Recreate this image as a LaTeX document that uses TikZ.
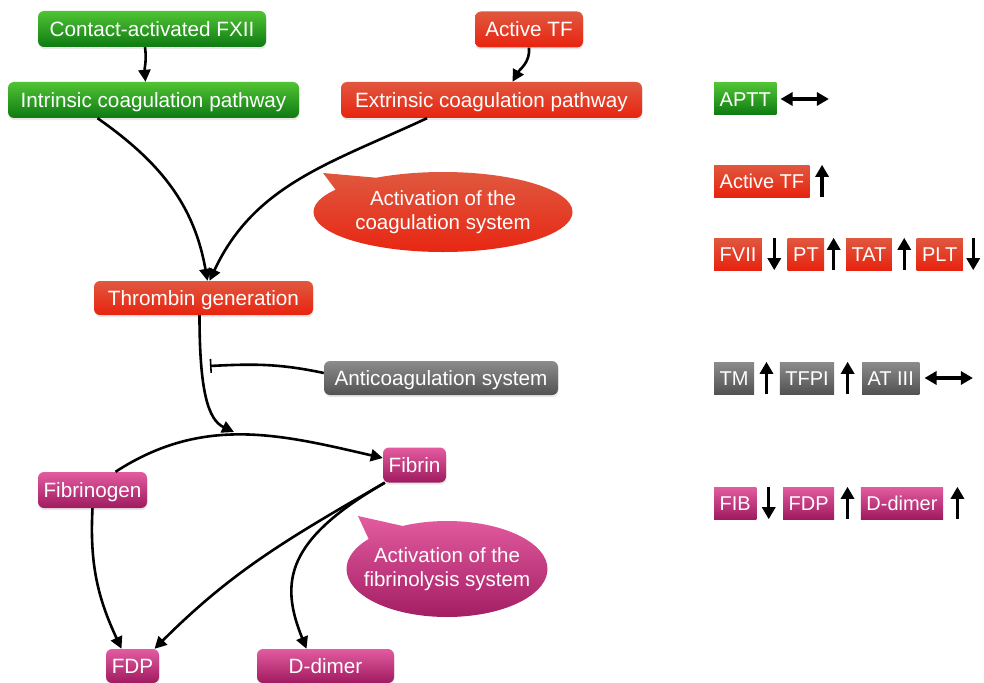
\documentclass[tikz,border=0pt]{standalone}
\usepackage{fontspec}
\setmainfont{Liberation Sans}
\usetikzlibrary{positioning,arrows.meta,shapes.callouts,shadows}

\definecolor{grtop}{HTML}{50C434}
\definecolor{grbot}{HTML}{0E7A12}
\definecolor{rdtop}{HTML}{E0583F}
\definecolor{rdbot}{HTML}{E8230F}
\definecolor{gytop}{HTML}{8C8C8C}
\definecolor{gybot}{HTML}{525252}
\definecolor{mgtop}{HTML}{E35CA0}
\definecolor{mgbot}{HTML}{A01A60}

\tikzset{
  gfill/.style={top color=grtop,bottom color=grbot},
  rfill/.style={top color=rdtop,bottom color=rdbot},
  kfill/.style={top color=gytop,bottom color=gybot},
  mfill/.style={top color=mgtop,bottom color=mgbot},
  box/.style={rounded corners=6pt,inner sep=0pt,minimum height=36pt,text height=14.8pt,text depth=0pt,
    font=\fontsize{20.7}{24}\selectfont,
    drop shadow={opacity=0.18,shadow xshift=0.5pt,shadow yshift=-2pt}},
  bubble/.style={shape=ellipse callout,inner ysep=0pt,align=center,callout pointer arc=25,
    font=\fontsize{20.5}{24}\selectfont},
  tag/.style={inner xsep=5.5pt,inner ysep=0pt,minimum height=32pt,text height=14.3pt,text depth=0pt},
  vslot/.style={inner sep=0pt,minimum width=0pt,minimum height=32pt},
  hslot/.style={inner sep=0pt,minimum width=48pt,minimum height=0pt},
  flow/.style={line width=2.6pt,-{Triangle[length=12pt,width=12pt]}},
  inhib/.style={line width=2.6pt,-{Bar[width=14pt,line width=1.6pt]}},
  rarr/.style={line width=3.2pt,-{Triangle[length=12pt,width=13pt]}},
  rboth/.style={line width=3.2pt,{Triangle[length=12pt,width=13pt]}-{Triangle[length=12pt,width=13pt]}}
}

\begin{document}
\begin{tikzpicture}[x=1pt,y=1pt,every node/.style={font=\fontsize{20}{24}\selectfont,text=white}]
\useasboundingbox (0,0) rectangle (984,-682);
%\draw[step=50,help lines](0,0)grid(984,-682);
    \node[box,gfill,minimum width=228pt] (contact) at (152,-29) {Contact-activated FXII};
    \node[box,rfill,minimum width=108pt] (activetf) at (529,-29.5) {Active TF};
    \node[box,gfill,minimum width=291pt] (intrinsic) at (153.5,-100) {Intrinsic coagulation pathway};
    \node[box,rfill,minimum width=301pt] (extrinsic) at (491.5,-100) {Extrinsic coagulation pathway};
    \node[bubble,rfill,inner xsep=2pt,minimum width=259pt,minimum height=80pt,callout absolute pointer={(323,-173)}] (coagsys) at (443,-212) {Activation of the\\coagulation system};
    \node[box,rfill,minimum width=219pt,minimum height=34pt] (thrombin) at (203.5,-298) {Thrombin generation};
    \node[box,kfill,minimum width=234pt,minimum height=34pt] (anticoag) at (441,-378) {Anticoagulation system};
    \node[box,mfill,minimum width=109pt] (fibrinogen) at (92.5,-490) {Fibrinogen};
    \node[box,mfill,minimum width=63pt,minimum height=35pt] (fibrin) at (414.5,-465) {Fibrin};
    \node[bubble,mfill,inner xsep=-14pt,minimum width=201pt,minimum height=96pt,callout absolute pointer={(358,-516)}] (fibsys) at (447,-569) {Activation of the\\fibrinolysis system};
    \node[box,mfill,minimum width=53pt,minimum height=34pt] (fdp) at (132.5,-666) {FDP};
    \node[box,mfill,minimum width=137pt,minimum height=34pt] (ddimer) at (325.5,-666) {D-dimer};
    \coordinate (conv) at (234,-432);
    \coordinate (block) at (210,-366);
    % pathways
    \draw[flow] ([xshift=-7pt]contact.south) to[out=-82,in=95] ([xshift=-8pt]intrinsic.north);
    \draw[flow] (activetf.south) to[out=-85,in=60] ([xshift=21pt]extrinsic.north);
    \draw[flow] ([xshift=-56pt]intrinsic.south) to[out=-35,in=100] ([xshift=4pt]thrombin.north);
    \draw[flow] ([xshift=-64.5pt]extrinsic.south) to[out=-155,in=65] ([xshift=6pt]thrombin.north);
    \draw[flow] ([xshift=-4pt]thrombin.south) to[out=-90,in=155,out looseness=1.6,in looseness=0.6] (conv);
    \draw[inhib] ([yshift=5pt]anticoag.west) to[out=168,in=3] (block);
    % fibrin
    \draw[flow] ([xshift=23pt]fibrinogen.north) to[out=33,in=167] ([yshift=7pt]fibrin.west);
    \draw[flow] (fibrinogen.south) to[out=-93,in=115] ([xshift=-11pt]fdp.north);
    \draw[flow] ([xshift=2pt]fibrin.south west) to[out=-150,in=45] ([xshift=22pt]fdp.north);
    \draw[flow] ([xshift=2pt]fibrin.south west) to[out=-150,in=112,out looseness=1.6] ([xshift=-19pt]ddimer.north);
    % lab values
    \node[tag,gfill,anchor=west] (aptt) at (714,-99) {APTT};
    \node[hslot,right=4pt of aptt] (apttarr) {};
    \draw[rboth] (apttarr.west) -- (apttarr.east);
    \node[tag,rfill,anchor=west] (tfup) at (714,-181) {Active TF};
    \node[vslot,right=12pt of tfup] (tfarr) {};
    \draw[rarr] (tfarr.south) -- (tfarr.north);
    \node[tag,rfill,anchor=west] (fvii) at (714,-254) {FVII};
    \node[vslot,right=12pt of fvii] (fviiarr) {};
    \node[tag,rfill,right=13pt of fviiarr] (pt) {PT};
    \node[vslot,right=9pt of pt] (ptarr) {};
    \node[tag,rfill,right=12pt of ptarr] (tat) {TAT};
    \node[vslot,right=12pt of tat] (tatarr) {};
    \node[tag,rfill,right=12pt of tatarr] (plt) {PLT};
    \node[vslot,right=10pt of plt] (pltarr) {};
    \draw[rarr] (fviiarr.north) -- (fviiarr.south);
    \draw[rarr] (ptarr.south) -- (ptarr.north);
    \draw[rarr] (tatarr.south) -- (tatarr.north);
    \draw[rarr] (pltarr.north) -- (pltarr.south);
    \node[tag,kfill,anchor=west] (tm) at (714,-378) {TM};
    \node[vslot,right=12pt of tm] (tmarr) {};
    \node[tag,kfill,right=13pt of tmarr] (tfpi) {TFPI};
    \node[vslot,right=13pt of tfpi] (tfpiarr) {};
    \node[tag,kfill,right=14pt of tfpiarr] (at) {AT III};
    \node[hslot,right=5pt of at] (atarr) {};
    \draw[rarr] (tmarr.south) -- (tmarr.north);
    \draw[rarr] (tfpiarr.south) -- (tfpiarr.north);
    \draw[rboth] (atarr.west) -- (atarr.east);
    \node[tag,mfill,anchor=west] (fib) at (714,-503) {FIB};
    \node[vslot,right=12pt of fib] (fibarr) {};
    \node[tag,mfill,right=14pt of fibarr] (fdpr) {FDP};
    \node[vslot,right=13pt of fdpr] (fdprarr) {};
    \node[tag,mfill,right=13pt of fdprarr] (dd) {D-dimer};
    \node[vslot,right=14pt of dd] (ddarr) {};
    \draw[rarr] (fibarr.north) -- (fibarr.south);
    \draw[rarr] (fdprarr.south) -- (fdprarr.north);
    \draw[rarr] (ddarr.south) -- (ddarr.north);
\end{tikzpicture}
\end{document}
